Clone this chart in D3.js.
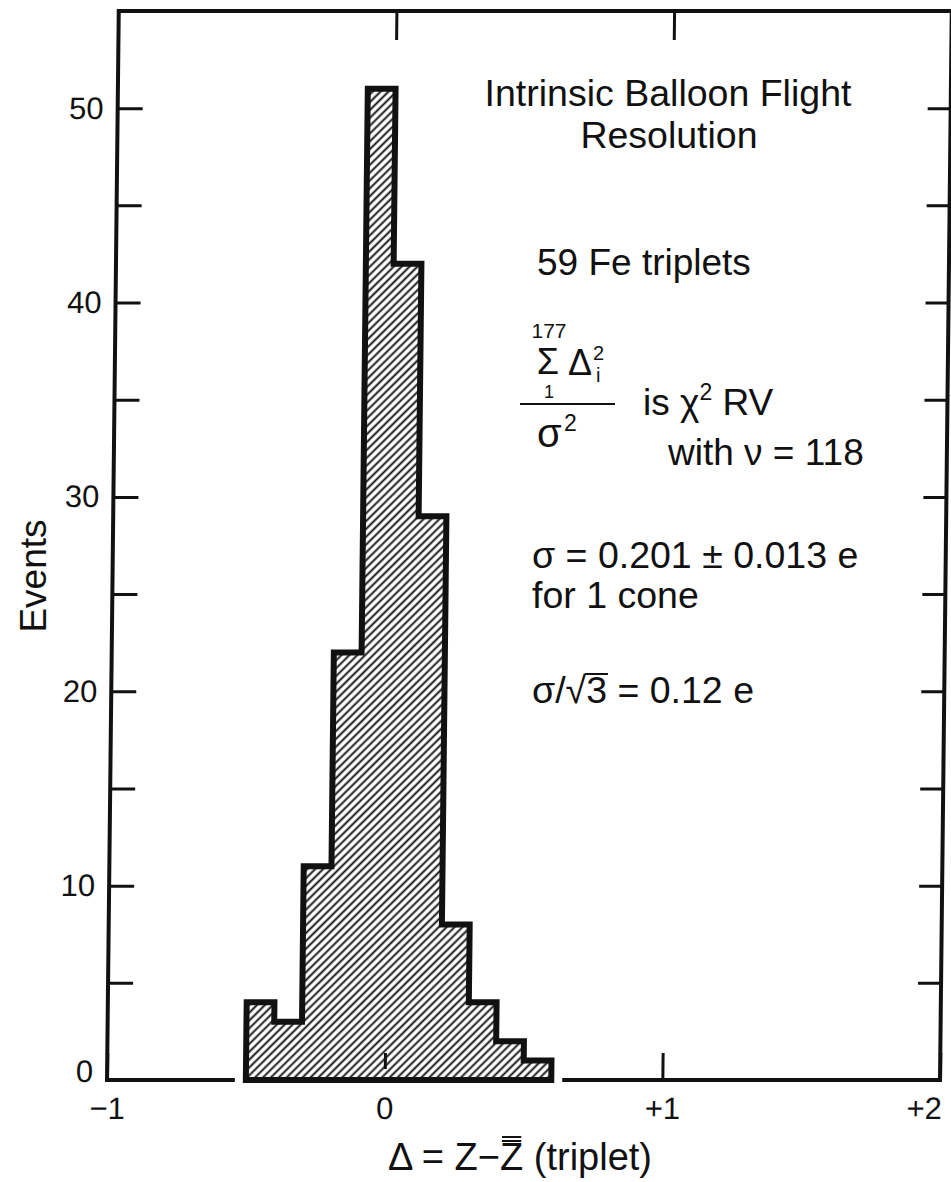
<!DOCTYPE html>
<html>
<head>
<meta charset="utf-8">
<script src="https://cdn.jsdelivr.net/npm/d3@7"></script>
<style>
  body { margin: 0; background: #fff; }
  text { font-family: "Liberation Sans", Arial, sans-serif; fill: #111; }
</style>
</head>
<body>
<div class="canvas"></div>
<script>
// histogram data: bin starts (width 0.1) and event counts
const binStarts = [-0.5, -0.4, -0.3, -0.2, -0.1, 0, 0.1, 0.2, 0.3, 0.4, 0.5]
const counts = [4, 3, 11, 22, 51, 42, 29, 8, 4, 2, 1]
const binWidth = 0.1

// axis ticks
const xTicks = [-1, 0, 1, 2]
const xTickLabels = ['\u22121', '0', '+1', '+2']
const yTicks = [0, 5, 10, 15, 20, 25, 30, 35, 40, 45, 50]

const W = 951, H = 1182
const x = d3.scaleLinear().domain([-1, 2]).range([107, 940])
const y = d3.scaleLinear().domain([0, 55]).range([1080, 11])

const svg = d3.select('.canvas')
  .append('svg')
  .attr('width', W)
  .attr('height', H)

svg.append('defs').append('pattern')
  .attr('id', 'hatch')
  .attr('width', 5.6)
  .attr('height', 5.6)
  .attr('patternUnits', 'userSpaceOnUse')
  .attr('patternTransform', 'rotate(45)')
  .append('line')
  .attr('x1', 1.4).attr('y1', -1)
  .attr('x2', 1.4).attr('y2', 7)
  .attr('stroke', '#111')
  .attr('stroke-width', 1.9)

// the scanned figure leans a little to the right at the top
const k = 0.011
const plot = svg.append('g')
  .attr('transform', `translate(${k * 1080}, 0) skewX(${-Math.atan(k) * 180 / Math.PI})`)

// frame
plot.append('rect')
  .attr('x', x(-1)).attr('y', y(55))
  .attr('width', x(2) - x(-1)).attr('height', y(0) - y(55))
  .attr('fill', 'none')
  .attr('stroke', '#111')
  .attr('stroke-width', 4)

const styleAxis = g => {
  g.select('.domain').remove()
  g.selectAll('.tick line').attr('stroke', '#111').attr('stroke-width', 3)
  g.selectAll('.tick text')
    .attr('font-family', '"Liberation Sans", Arial, sans-serif')
    .attr('font-size', 31)
    .attr('fill', '#111')
}

plot.append('g')
  .attr('transform', `translate(${x(-1)}, 0)`)
  .call(d3.axisLeft(y).tickValues(yTicks).tickSize(-25).tickPadding(14)
    .tickFormat(d => d % 10 === 0 ? d : ''))
  .call(styleAxis)
  .call(g => g.selectAll('.tick text').filter(d => d === 0).attr('dy', '0.05em'))

plot.append('g')
  .attr('transform', `translate(${x(2)}, 0)`)
  .call(d3.axisRight(y).tickValues(yTicks.slice(1)).tickSize(-23).tickFormat(''))
  .call(styleAxis)

plot.append('g')
  .attr('transform', `translate(0, ${y(0)})`)
  .call(d3.axisBottom(x).tickValues(xTicks).tickSize(-27).tickPadding(17)
    .tickFormat((d, i) => xTickLabels[i]))
  .call(styleAxis)
  .call(g => g.selectAll('.tick text').filter(d => d === 2).attr('dx', -16))

plot.append('g')
  .attr('transform', `translate(0, ${y(55)})`)
  .call(d3.axisTop(x).tickValues([0, 1]).tickSize(-29).tickFormat(''))
  .call(styleAxis)

// histogram envelope
const pts = binStarts.map((b, i) => [b, counts[i]])
const xEnd = binStarts[binStarts.length - 1] + binWidth
pts.unshift([binStarts[0], 0])
pts.push([xEnd, counts[counts.length - 1]])
pts.push([xEnd, 0])

const step = d3.line()
  .x(d => x(d[0]))
  .y(d => y(d[1]))
  .curve(d3.curveStepAfter)

const hist = step(pts) + 'Z'

plot.append('path')
  .attr('d', hist)
  .attr('fill', 'none')
  .attr('stroke', '#fff')
  .attr('stroke-width', 22)
  .attr('stroke-linejoin', 'miter')

plot.append('path')
  .attr('d', hist)
  .attr('fill', 'url(#hatch)')
  .attr('stroke', '#111')
  .attr('stroke-width', 6)
  .attr('stroke-linejoin', 'miter')

// axis titles
svg.append('text')
  .attr('transform', 'translate(46, 576) rotate(-90)')
  .attr('text-anchor', 'middle')
  .attr('font-size', 37)
  .text('Events')

const xt = svg.append('text')
  .attr('x', 520).attr('y', 1170)
  .attr('text-anchor', 'middle')
  .attr('font-size', 38)
  .text('\u0394 = Z\u2212Z (triplet)')
{
  const n = xt.node()
  const a = n.getStartPositionOfChar(6).x + 2
  const b = n.getEndPositionOfChar(6).x - 2
  ;[1170 - 29, 1170 - 33].forEach(yy => {
    svg.append('line')
      .attr('x1', a).attr('x2', b).attr('y1', yy).attr('y2', yy)
      .attr('stroke', '#111').attr('stroke-width', 2)
  })
}

// annotations
const note = (tx, ty, str, size = 37, anchor = 'start') =>
  svg.append('text')
    .attr('x', tx).attr('y', ty)
    .attr('text-anchor', anchor)
    .attr('font-size', size)
    .text(str)

note(668, 106, 'Intrinsic Balloon Flight', 37.5, 'middle')
note(669, 148, 'Resolution', 37.5, 'middle')
note(537, 275, '59 Fe triplets')

// sum over sigma squared
note(549, 338, '177', 21, 'middle')
note(548, 374, '\u03a3', 36, 'middle')
note(568, 375, '\u0394', 36)
note(593, 360, '2', 20)
note(596, 382, 'i', 20)
note(549, 398, '1', 18, 'middle')
svg.append('line')
  .attr('x1', 520).attr('x2', 615)
  .attr('y1', 404).attr('y2', 404)
  .attr('stroke', '#111').attr('stroke-width', 2)
note(537, 447, '\u03c3', 40)
note(564, 431, '2', 23)

const chi = svg.append('text')
  .attr('x', 643).attr('y', 415)
  .attr('font-size', 37)
chi.append('tspan').text('is \u03c7')
chi.append('tspan').attr('font-size', 23).attr('dy', -15).text('2')
chi.append('tspan').attr('dy', 15).text(' RV')

note(668, 465, 'with \u03bd = 118')
note(532, 568, '\u03c3 = 0.201 \u00b1 0.013 e', 37.5)
note(532, 608, 'for 1 cone', 37.5)

const root = note(532, 703, '\u03c3/\u221a3 = 0.12 e', 37.5)
{
  const n = root.node()
  const a = n.getEndPositionOfChar(2).x - 1
  const b = n.getEndPositionOfChar(3).x + 1
  svg.append('line')
    .attr('x1', a).attr('x2', b)
    .attr('y1', 703 - 29).attr('y2', 703 - 29)
    .attr('stroke', '#111').attr('stroke-width', 2)
}
</script>
</body>
</html>
